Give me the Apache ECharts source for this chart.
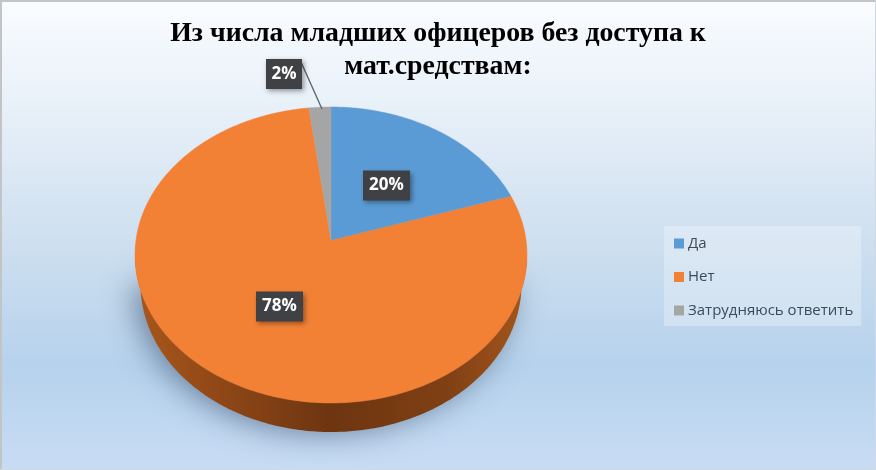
<!DOCTYPE html>
<html><head><meta charset="utf-8">
<style>html,body{margin:0;padding:0;background:#fff}#c{width:876px;height:470px}</style>
<script src="https://cdn.jsdelivr.net/npm/echarts@6/dist/echarts.min.js"></script>
</head><body><div id="c"></div>
<script>
var categories = ['Да', 'Нет', 'Затрудняюсь ответить'];
var values = [20, 78, 2];
var colors = ['#5b9bd5', '#f38135', '#a5a5a5'];

var CX = 331, CY = 255, RX = 196, RY = 148, APEX_Y = 240, DEPTH = 29, TAPER = 0.972;
var labelPos = [[386.5, 185.5], [279.5, 306.5], [284, 74]];
var total = values.reduce(function (a, b) { return a + b; }, 0);

function rim(theta) {
  var dx = Math.sin(theta) * RX, dy = -Math.cos(theta) * RY;
  var oy = APEX_Y - CY;
  var a = dx * dx / (RX * RX) + dy * dy / (RY * RY);
  var b = 2 * oy * dy / (RY * RY);
  var c = oy * oy / (RY * RY) - 1;
  var s = (-b + Math.sqrt(b * b - 4 * a * c)) / (2 * a);
  return [CX + dx * s, APEX_Y + dy * s];
}
function arcPoints(from, to) {
  var n = Math.max(4, Math.ceil((to - from) * 80)), pts = [];
  for (var i = 0; i <= n; i++) pts.push(rim(from + (to - from) * i / n));
  return pts;
}
function lower(p) { return [CX + (p[0] - CX) * TAPER, p[1] + DEPTH]; }
function sideElement(low) {
  var poly = low.concat(low.slice().reverse().map(lower));
  return {
    type: 'polygon', shape: { points: poly }, silent: true,
    style: { fill: new echarts.graphic.LinearGradient(0, 0, 1, 0, [
      { offset: 0, color: '#a8571c' }, { offset: 0.22, color: '#8f4716' },
      { offset: 0.5, color: '#6d3511' }, { offset: 0.8, color: '#804014' }, { offset: 1, color: '#a5561c' }
    ]) }
  };
}
function makeRender(idx) {
  return function (params, api) {
    var v = api.value(0), before = 0;
    for (var i = 0; i < idx; i++) before += values[i];
    var a0 = before / total * Math.PI * 2, a1 = (before + v) / total * Math.PI * 2;
    var arc = arcPoints(a0, a1), kids = [];
    var low = arc.filter(function (p) { return p[1] >= CY; });
    if (low.length >= 2) {
      kids.push({
        type: 'polygon', silent: true,
        shape: { points: low.map(function (p) { var q = lower(p); return [q[0], q[1] - 4]; }) },
        style: { fill: 'rgba(60,80,110,0.7)', shadowBlur: 30, shadowColor: 'rgba(50,70,100,0.85)', shadowOffsetX: -7, shadowOffsetY: 5 }
      });
      kids.push(sideElement(low));
    }
    kids.push({
      type: 'polygon', shape: { points: [[CX, APEX_Y]].concat(arc) },
      style: { fill: colors[idx], stroke: colors[idx], lineWidth: 0.5 }
    });
    return { type: 'group', children: kids };
  };
}
function makeLabelRender(idx) {
  return function (params, api) {
    var p = labelPos[idx], txt = api.value(0) + '%', kids = [];
    var w = txt.length > 2 ? 47 : 36, h = 30;
    if (idx === 2) {
      kids.push({ type: 'line', shape: { x1: 301, y1: 62, x2: 322, y2: 109 }, style: { stroke: '#5f6973', lineWidth: 1.4 } });
    }
    kids.push({ type: 'rect', shape: { x: p[0] - w / 2, y: p[1] - h / 2, width: w, height: h },
      style: { fill: '#404145', shadowBlur: 5, shadowOffsetX: 2, shadowOffsetY: 2, shadowColor: 'rgba(0,0,0,0.4)' } });
    kids.push({ type: 'text', style: { x: p[0], y: p[1], text: txt, fill: '#fff', align: 'center', verticalAlign: 'middle',
      font: 'bold 17px "Open Sans", sans-serif' } });
    return { type: 'group', children: kids };
  };
}
var order = [1, 0, 2];
var series = order.map(function (i) {
  return { type: 'custom', name: categories[i], coordinateSystem: 'none', z: 2, silent: true,
    itemStyle: { color: colors[i] }, data: [[values[i]]], renderItem: makeRender(i), animation: false };
});
categories.forEach(function (name, i) {
  series.push({ type: 'custom', name: name, coordinateSystem: 'none', z: 5, silent: true,
    itemStyle: { color: colors[i] }, data: [[values[i]]], renderItem: makeLabelRender(i), animation: false });
});
var chart = echarts.init(document.getElementById('c'), null, { renderer: 'canvas' });
chart.setOption({
  animation: false,
  backgroundColor: new echarts.graphic.LinearGradient(0, 0, 0, 1, [
    { offset: 0, color: '#fafcff' }, { offset: 0.25, color: '#e6eff8' }, { offset: 0.5, color: '#cfe0f0' },
    { offset: 0.78, color: '#b6d2ec' }, { offset: 1, color: '#c8dcf4' }
  ]),
  graphic: [
    { type: 'line', silent: true, z: 100, shape: { x1: 0, y1: 1, x2: 876, y2: 1 }, style: { stroke: '#c2c4c6', lineWidth: 2 } },
    { type: 'line', silent: true, z: 100, shape: { x1: 1, y1: 0, x2: 1, y2: 470 }, style: { stroke: '#c2c4c6', lineWidth: 2 } },
    { type: 'line', silent: true, z: 100, shape: { x1: 0, y1: 469.5, x2: 876, y2: 469.5 }, style: { stroke: '#d0d8e2', lineWidth: 1 } },
    { type: 'line', silent: true, z: 100, shape: { x1: 875.5, y1: 0, x2: 875.5, y2: 470 }, style: { stroke: '#d0d8e2', lineWidth: 1 } }
  ],
  title: {
    text: 'Из числа младших офицеров без доступа к\nмат.средствам:',
    left: 433, top: 12, textAlign: 'center',
    textStyle: { fontFamily: '"Liberation Serif", serif', fontWeight: 'bold', fontSize: 27.8, color: '#000', lineHeight: 33 }
  },
  legend: {
    orient: 'vertical', left: 664, top: 226, width: 199, height: 100,
    data: categories, icon: 'rect', itemWidth: 10, itemHeight: 10, itemGap: 18.5,
    padding: [10, 8, 8, 10],
    backgroundColor: 'rgba(255,255,255,0.28)',
    textStyle: { fontFamily: '"Open Sans", sans-serif', fontSize: 15, color: '#3f4a57', padding: [0, 0, 0, -1] }
  },
  series: series
});
</script></body></html>
